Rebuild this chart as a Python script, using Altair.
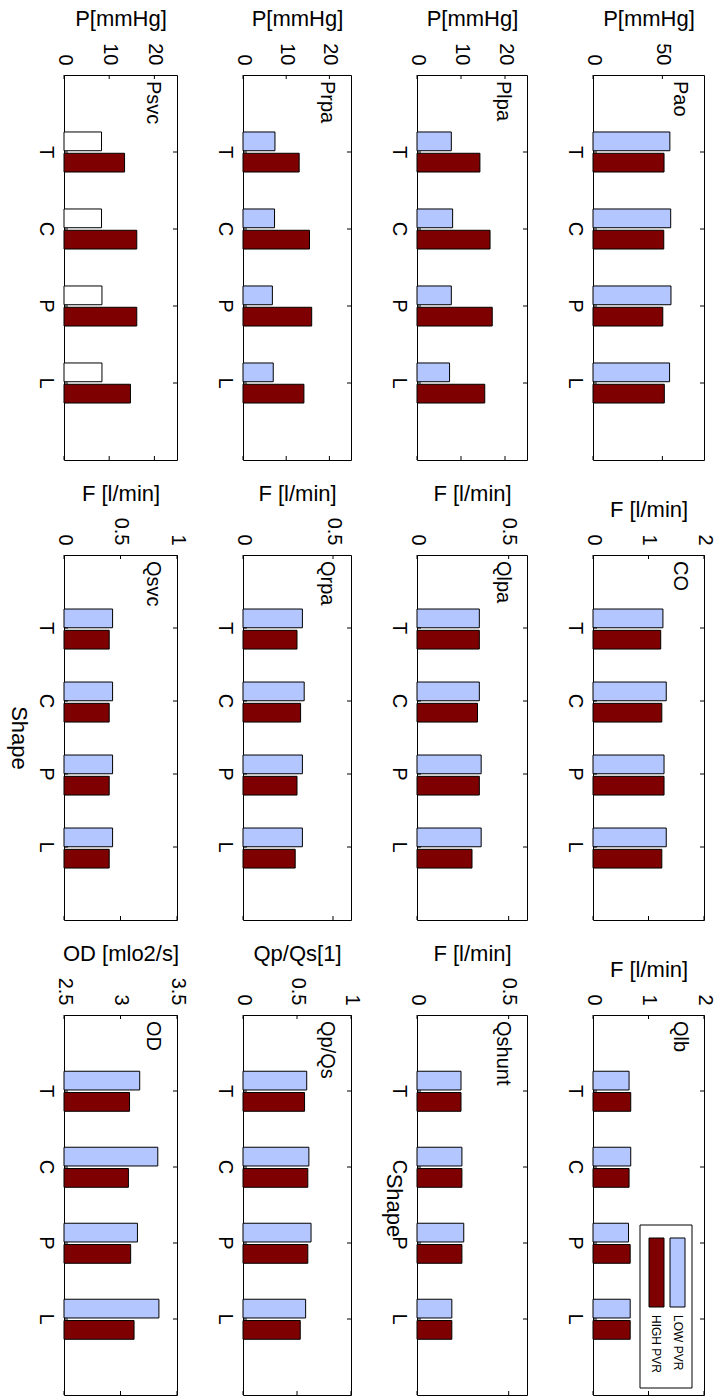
import altair as alt
import pandas as pd

FONT = "Liberation Sans"

shapes = ["T", "C", "P", "L"]
series = ["LOW PVR", "HIGH PVR"]

names = ["Psvc", "Prpa", "Plpa", "Pao",
         "Qsvc", "Qrpa", "Qlpa", "CO",
         "OD", "Qp/Qs", "Qshunt", "Qlb"]
units = ["P[mmHg]", "P[mmHg]", "P[mmHg]", "P[mmHg]",
         "F [l/min]", "F [l/min]", "F [l/min]", "F [l/min]",
         "OD [mlo2/s]", "Qp/Qs[1]", "F [l/min]", "F [l/min]"]
domains = [[0, 25], [0, 25], [0, 25], [0, 80],
           [0, 1], [0, 0.6], [0, 0.6], [0, 2],
           [2.5, 3.5], [0, 1], [0, 0.6], [0, 2]]
tick_values = [[0, 10, 20], [0, 10, 20], [0, 10, 20], [0, 50],
               [0, 0.5, 1], [0, 0.5], [0, 0.5], [0, 1, 2],
               [2.5, 3, 3.5], [0, 0.5, 1], [0, 0.5], [0, 1, 2]]

low_values = [
    [8.3, 8.3, 8.4, 8.4],
    [7.4, 7.3, 6.8, 7.0],
    [7.8, 8.1, 7.8, 7.4],
    [55.4, 56.0, 56.2, 55.2],
    [0.43, 0.43, 0.43, 0.43],
    [0.33, 0.34, 0.33, 0.33],
    [0.34, 0.34, 0.35, 0.35],
    [1.26, 1.32, 1.28, 1.32],
    [3.17, 3.33, 3.15, 3.34],
    [0.59, 0.61, 0.63, 0.58],
    [0.24, 0.245, 0.255, 0.19],
    [0.65, 0.68, 0.64, 0.67],
]
high_values = [
    [13.4, 16.1, 16.1, 14.7],
    [13.0, 15.4, 15.9, 14.1],
    [14.3, 16.6, 17.1, 15.4],
    [51.2, 51.0, 50.3, 51.4],
    [0.40, 0.40, 0.40, 0.40],
    [0.30, 0.32, 0.30, 0.29],
    [0.34, 0.33, 0.34, 0.30],
    [1.22, 1.24, 1.28, 1.24],
    [3.08, 3.07, 3.09, 3.12],
    [0.57, 0.60, 0.60, 0.53],
    [0.24, 0.245, 0.245, 0.19],
    [0.68, 0.65, 0.67, 0.67],
]

LOW_COLOR = "#b3c6ff"
HIGH_COLOR = "#7f0000"
low_colors = ["white"] + [LOW_COLOR] * 11

# panels with the "Shape" title and its horizontal offset from the panel edge
shape_title = {4: -46, 10: -24}
legend_panel = 11
legend_labels = ["LOW PVR", "HIGH PVR"]

col_widths = [113, 108, 110, 111]
row_heights = [385, 365, 380]


def panel(i):
    w = col_widths[i % 4]
    h = row_heights[i // 4]
    dom = domains[i]
    rows = []
    for s, vals, col in zip(series, [low_values[i], high_values[i]],
                            [low_colors[i], HIGH_COLOR]):
        for sh, v in zip(shapes, vals):
            rows.append({"shape": sh, "series": s, "value": v,
                         "base": dom[0], "col": col})
    df = pd.DataFrame(rows)

    xs = alt.Scale(domain=dom, nice=False, zero=False)
    ys = alt.Scale(domain=shapes, paddingInner=0.48, paddingOuter=0.74)

    yaxis_kw = dict(labelAngle=90, labelAlign="center", labelBaseline="top",
                    labelPadding=9, labelFontSize=20, ticks=False, domain=False,
                    grid=False, labelFont=FONT, labelColor="black")
    if i in shape_title:
        yaxis_kw.update(title="Shape", titleAngle=90, titleX=shape_title[i],
                        titleY=h / 2, titleAlign="center", titleBaseline="middle",
                        titleFontSize=22, titleFontWeight="normal",
                        titleFont=FONT, titleColor="black")
    else:
        yaxis_kw.update(title=None)

    bars = alt.Chart(df).mark_bar(stroke="black", strokeWidth=1).encode(
        x=alt.X("value:Q", scale=xs,
                axis=alt.Axis(orient="top", title=units[i], values=tick_values[i],
                              labelExpr="datum.value + ''", labelAngle=90,
                              labelAlign="right",
                              labelBaseline="middle", labelPadding=10,
                              labelFontSize=20, labelFlush=False, labelOverlap=False,
                              titleFontSize=22, titleFontWeight="normal",
                              titlePadding=12, ticks=False, domain=False, grid=False,
                              labelFont=FONT, titleFont=FONT,
                              labelColor="black", titleColor="black")),
        x2="base:Q",
        y=alt.Y("shape:N", scale=ys, axis=alt.Axis(**yaxis_kw)),
        yOffset=alt.YOffset("series:N",
                            scale=alt.Scale(domain=series, paddingInner=0.12, paddingOuter=0)),
        fill=alt.Fill("col:N", scale=None),
    )

    tdf = pd.DataFrame({"tick": tick_values[i]})
    top_ticks = alt.Chart(tdf).mark_rule(color="black", strokeWidth=1).encode(
        x=alt.X("tick:Q", scale=xs, axis=None), y=alt.value(0), y2=alt.value(4))
    bot_ticks = alt.Chart(tdf).mark_rule(color="black", strokeWidth=1).encode(
        x=alt.X("tick:Q", scale=xs, axis=None), y=alt.value(h - 4), y2=alt.value(h))

    cdf = pd.DataFrame({"shape": shapes})
    left_ticks = alt.Chart(cdf).mark_rule(color="black", strokeWidth=1).encode(
        y=alt.Y("shape:N", scale=ys, axis=None, bandPosition=0.5),
        x=alt.value(0), x2=alt.value(4))
    right_ticks = alt.Chart(cdf).mark_rule(color="black", strokeWidth=1).encode(
        y=alt.Y("shape:N", scale=ys, axis=None, bandPosition=0.5),
        x=alt.value(w - 4), x2=alt.value(w))

    label = alt.Chart(pd.DataFrame({"label": [names[i]]})).mark_text(
        angle=90, align="left", baseline="middle", fontSize=20, font=FONT,
        color="black").encode(
        x=alt.value(w - 24), y=alt.value(6), text="label:N")

    layers = [bars, top_ticks, bot_ticks, left_ticks, right_ticks, label]

    if i == legend_panel:
        box = alt.Chart(pd.DataFrame({"k": [0]})).mark_rect(
            fill="white", stroke="black", strokeWidth=1).encode(
            x=alt.value(47), x2=alt.value(99), y=alt.value(210), y2=alt.value(373))
        sw_low = alt.Chart(pd.DataFrame({"k": [legend_labels[0]]})).mark_rect(
            fill=LOW_COLOR, stroke="black", strokeWidth=1).encode(
            x=alt.value(77), x2=alt.value(92), y=alt.value(223), y2=alt.value(292))
        sw_high = alt.Chart(pd.DataFrame({"k": [legend_labels[1]]})).mark_rect(
            fill=HIGH_COLOR, stroke="black", strokeWidth=1).encode(
            x=alt.value(56), x2=alt.value(71), y=alt.value(223), y2=alt.value(292))
        t_low = alt.Chart(pd.DataFrame({"k": [legend_labels[0]]})).mark_text(
            angle=90, align="left", baseline="middle", fontSize=12, font=FONT,
            color="black").encode(x=alt.value(85), y=alt.value(300), text="k:N")
        t_high = alt.Chart(pd.DataFrame({"k": [legend_labels[1]]})).mark_text(
            angle=90, align="left", baseline="middle", fontSize=12, font=FONT,
            color="black").encode(x=alt.value(63), y=alt.value(300), text="k:N")
        layers += [box, sw_low, sw_high, t_low, t_high]

    return alt.layer(*layers).resolve_axis(
        x="independent", y="independent").properties(width=w, height=h)


panels = [panel(i) for i in range(12)]

chart = alt.concat(
    *panels, columns=4, spacing={"row": 95, "column": 66}, bounds="flush"
).properties(
    autosize=alt.AutoSizeParams(type="none"),
    padding={"left": 64, "top": 75, "right": 654, "bottom": 1322},
    background="white",
).configure(font=FONT).configure_view(
    stroke="black", strokeWidth=1, fill="white"
)

chart.save("out.html", embed_options={"renderer": "svg", "actions": False})
